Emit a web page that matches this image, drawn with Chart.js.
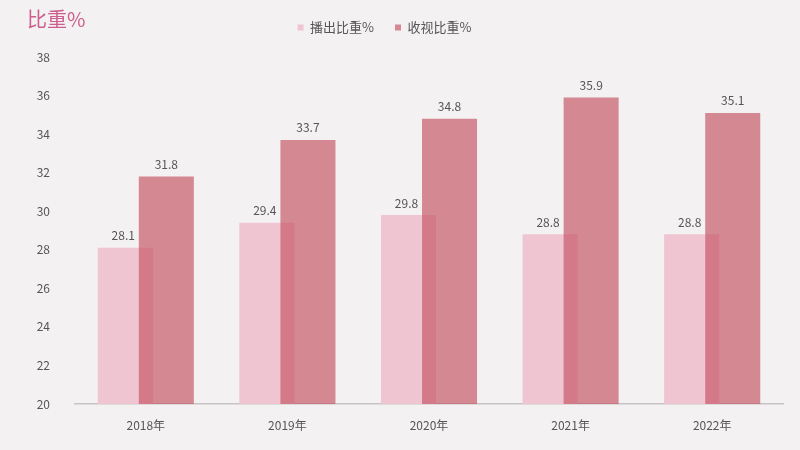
<!DOCTYPE html>
<html>
<head>
<meta charset="utf-8">
<script src="https://cdn.jsdelivr.net/npm/chart.js@4.4.1/dist/chart.umd.min.js"></script>
<style>
  html, body { margin: 0; padding: 0; background: #f3f1f2; }
  #wrap { position: relative; width: 800px; height: 450px; }
  #title {
    position: absolute; left: 27px; top: 4px;
    font-family: "Noto Sans CJK SC", sans-serif; font-size: 20px;
    color: #cc5f8e;
  }
</style>
</head>
<body>
<div id="wrap">
  <div id="title">比重%</div>
  <canvas id="myChart" width="800" height="450"></canvas>
</div>
<script>
// categorie e valori
const years = ["2018年", "2019年", "2020年", "2021年", "2022年"];
const broadcastShare = [28.1, 29.4, 29.8, 28.8, 28.8]; // 播出比重%
const viewingShare = [31.8, 33.7, 34.8, 35.9, 35.1];   // 收视比重%
const yTicks = [20, 22, 24, 26, 28, 30, 32, 34, 36, 38];

const FONT = '"Noto Sans CJK SC", "Noto Sans", sans-serif';

// il secondo dataset va disegnato sopra il primo
let drawingTop = false;
const topDataset = {
  id: "topDataset",
  beforeDatasetDraw(chart, args) {
    if (args.index === 1 && !drawingTop) return false;
  },
  afterDatasetsDraw(chart) {
    const ctx = chart.ctx;
    const area = chart.chartArea;
    drawingTop = true;
    ctx.save();
    ctx.beginPath();
    ctx.rect(area.left, area.top, area.right - area.left, area.bottom - area.top);
    ctx.clip();
    chart.getDatasetMeta(1).controller.draw();
    ctx.restore();
    drawingTop = false;
  }
};

// etichette sopra le barre
const valueLabels = {
  id: "valueLabels",
  afterDatasetsDraw(chart) {
    const ctx = chart.ctx;
    ctx.save();
    ctx.font = "12px " + FONT;
    ctx.fillStyle = "#555";
    ctx.textAlign = "center";
    ctx.textBaseline = "bottom";
    chart.data.datasets.forEach((ds, i) => {
      chart.getDatasetMeta(i).data.forEach((bar, j) => {
        ctx.fillText(ds.data[j].toFixed(1), bar.x - (i === 0 ? 2 : 0), bar.y - 6);
      });
    });
    ctx.restore();
  }
};

// legenda: piu' spazio sotto e spostata un po' a sinistra
const legendTweak = {
  id: "legendTweak",
  beforeInit(chart) {
    const legend = chart.legend;
    const origFit = legend.fit;
    legend.fit = function () {
      origFit.call(this);
      this.height += 13;
    };
  },
  afterLayout(chart) {
    chart.legend.left -= 7;
    chart.legend.right -= 7;
  }
};

var ctx = document.getElementById("myChart").getContext("2d");
var myChart = new Chart(ctx, {
  type: "bar",
  data: {
    labels: years,
    datasets: [
      {
        label: "播出比重%",
        data: broadcastShare,
        backgroundColor: "rgb(239,197,209)",
        categoryPercentage: 0.58,
        barPercentage: 1.34
      },
      {
        label: "收视比重%",
        data: viewingShare,
        backgroundColor: "rgba(197,86,100,0.68)",
        categoryPercentage: 0.58,
        barPercentage: 1.34
      }
    ]
  },
  options: {
    responsive: false,
    animation: false,
    layout: { padding: { left: 0, right: 17, top: 0, bottom: 0 } },
    plugins: {
      legend: {
        position: "top",
        labels: {
          boxWidth: 6,
          boxHeight: 6,
          color: "#555",
          font: { family: FONT, size: 13 },
          padding: 21
        }
      },
      tooltip: { enabled: false }
    },
    scales: {
      x: {
        grid: { display: false },
        border: { color: "#c8c4c6", width: 1.5 },
        ticks: { color: "#555", font: { family: FONT, size: 12 }, padding: 6 },
        afterFit(scale) { scale.height = 46; }
      },
      y: {
        min: 20,
        max: 38,
        grid: { display: false },
        border: { display: false },
        afterBuildTicks(scale) { scale.ticks = yTicks.map(v => ({ value: v })); },
        ticks: { color: "#555", font: { family: FONT, size: 12 }, padding: 17 },
        afterFit(scale) { scale.width = 75; }
      }
    }
  },
  plugins: [topDataset, valueLabels, legendTweak]
});
</script>
</body>
</html>
